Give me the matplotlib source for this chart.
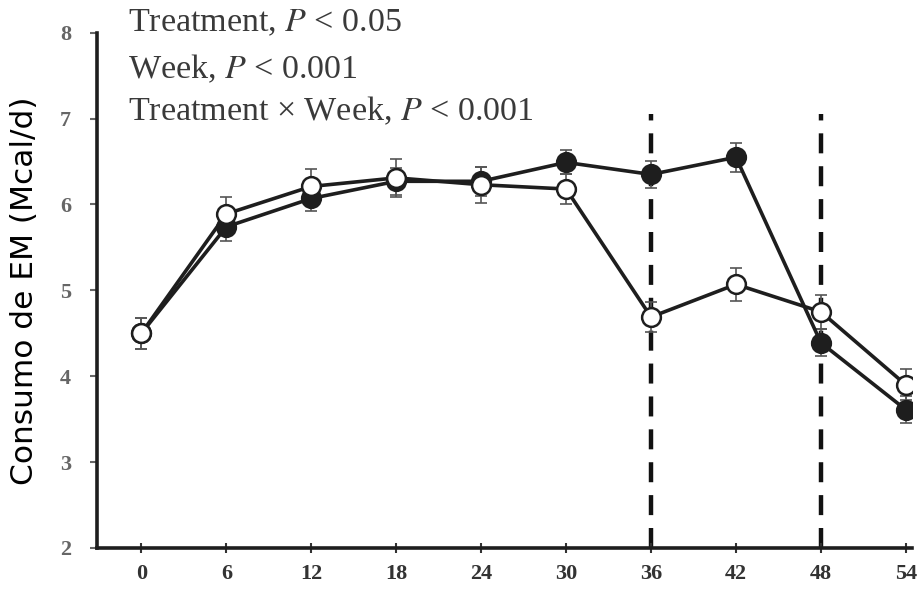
import matplotlib
matplotlib.use("Agg")
import matplotlib.pyplot as plt

plt.rcParams["mathtext.fontset"] = "stix"

# semanas y consumo de EM (Mcal/d)
weeks = [0, 6, 12, 18, 24, 30, 36, 42, 48, 54]
filled = [4.50, 5.74, 6.07, 6.27, 6.27, 6.49, 6.35, 6.55, 4.39, 3.61]
filled_err = [0.18, 0.17, 0.15, 0.16, 0.17, 0.14, 0.16, 0.17, 0.16, 0.16]
open_ = [4.50, 5.89, 6.21, 6.31, 6.23, 6.18, 4.69, 5.07, 4.75, 3.90]
open_err = [0.18, 0.20, 0.20, 0.22, 0.21, 0.17, 0.17, 0.19, 0.20, 0.18]
yticks = [2, 3, 4, 5, 6, 7, 8]
cut_weeks = [36, 48]

fig = plt.figure(figsize=(9.24, 5.95), dpi=100)
ax = fig.add_axes([0.1055, 0.079, 0.881, 0.866])

line_c = "#1e1e1e"
ax.errorbar(weeks, filled, yerr=filled_err, fmt="none", ecolor="#555555",
            elinewidth=1.2, capsize=4, capthick=1.2, zorder=2)
ax.errorbar(weeks, open_, yerr=open_err, fmt="none", ecolor="#555555",
            elinewidth=1.2, capsize=4, capthick=1.2, zorder=2)
ax.plot(weeks, filled, "-o", color=line_c, lw=2.6, ms=13.5,
        mfc=line_c, mec=line_c, mew=1.8, zorder=3)
ax.plot(weeks, open_, "-o", color=line_c, lw=2.6, ms=13.5,
        mfc="white", mec=line_c, mew=1.8, zorder=4)

for w in cut_weeks:
    ax.plot([w, w], [2, 7.05], color="#111111", lw=3.2,
            dashes=(4.5, 2.9), zorder=1)

ax.set_xlim(-3.1, 54.4)
ax.set_ylim(2, 8)
ax.set_xticks(weeks)
ax.set_yticks(yticks)
ax.spines["top"].set_visible(False)
ax.spines["right"].set_visible(False)
ax.spines["left"].set_linewidth(2.6)
ax.spines["bottom"].set_linewidth(2.6)
ax.spines["left"].set_color(line_c)
ax.spines["bottom"].set_color(line_c)
for sp in ax.spines.values():
    sp.set_clip_on(False)

tick_font = {"family": "Liberation Serif", "weight": "bold", "size": 16}
ax.set_xticklabels([str(w) for w in weeks], fontdict=tick_font, color="#333333")
ax.set_yticklabels([str(t) for t in yticks], fontdict=tick_font, color="#666666")
ax.tick_params(axis="x", direction="inout", length=7, width=1.5, pad=8, colors="#333333")
ax.tick_params(axis="y", direction="out", length=5, width=1.5, pad=14, colors="#666666")

ax.set_ylabel("Consumo de EM (Mcal/d)", fontsize=22.5, family="DejaVu Sans")
ax.yaxis.set_label_coords(-0.072, 0.5)

txt = {"family": "Liberation Serif", "size": 24.5, "color": "#3a3a3a"}
fig.text(0.138, 0.962, r"Treatment, $\mathit{P}$ < 0.05", va="center", **txt)
fig.text(0.138, 0.884, r"Week, $\mathit{P}$ < 0.001", va="center", **txt)
fig.text(0.138, 0.813, r"Treatment × Week, $\mathit{P}$ < 0.001", va="center", **txt)

fig.savefig("out.png", dpi=100)
